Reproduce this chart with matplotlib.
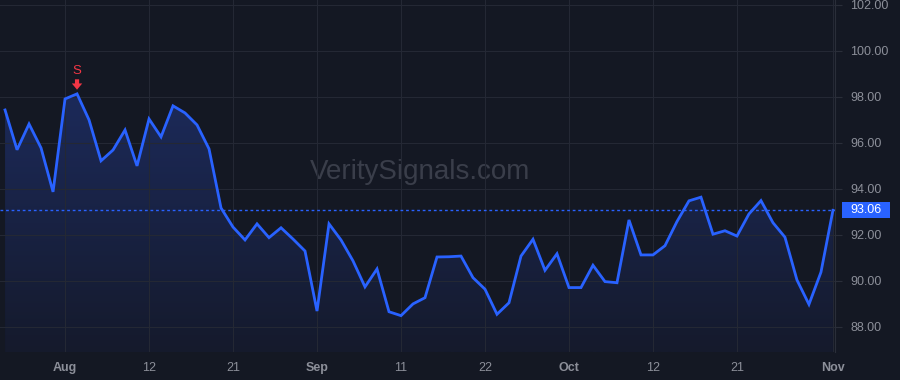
import numpy as np
import matplotlib
matplotlib.use("Agg")
import matplotlib.pyplot as plt
from matplotlib.path import Path
from matplotlib.patches import PathPatch, Rectangle
from matplotlib.transforms import blended_transform_factory

plt.rcParams['font.family'] = ['Liberation Sans', 'DejaVu Sans']

# closing values, one per trading day (Jul 25 .. Nov 1)
prices = [97.42, 95.69, 96.81, 95.77, 93.86, 97.90, 98.12, 96.99, 95.21, 95.68,
          96.55, 94.99, 97.03, 96.25, 97.60, 97.29, 96.77, 95.73, 93.16, 92.33,
          91.77, 92.47, 91.87, 92.30, 91.81, 91.29, 88.68, 92.47, 91.77, 90.86,
          89.73, 90.51, 88.65, 88.48, 88.99, 89.26, 91.03, 91.04, 91.07, 90.13,
          89.63, 88.54, 89.04, 91.07, 91.80, 90.45, 91.17, 89.70, 89.70, 90.67,
          89.96, 89.91, 92.64, 91.12, 91.12, 91.52, 92.57, 93.47, 93.63, 92.02,
          92.17, 91.94, 92.90, 93.48, 92.52, 91.89, 90.03, 88.97, 90.37, 93.06]
tick_idx = [5, 12, 19, 26, 33, 40, 47, 54, 61, 69]
tick_labels = ["Aug", "12", "21", "Sep", "11", "22", "Oct", "12", "21", "Nov"]
month_labels = ["Aug", "Sep", "Oct", "Nov"]
signal_idx = 6
signal_text = "S"
last_price = prices[-1]

bg = "#141823"
grid = "#242834"
txt = "#8c8f99"
blue = "#2962ff"
red = "#f23645"

x = np.arange(len(prices))
y = np.array(prices)

fig = plt.figure(figsize=(9, 3.8), dpi=100, facecolor=bg)
ax = fig.add_axes([0, 28 / 380, 835 / 900, 352 / 380], facecolor=bg)
ymin, ymax = 86.9, 102.2
ax.set_xlim(-0.42, 69.17)
ax.set_ylim(ymin, ymax)

# gradient fill under the line
grad = np.linspace(0, 1, 256).reshape(-1, 1)
cmap = matplotlib.colors.LinearSegmentedColormap.from_list("g", ["#151a2c", "#1c2a5a"])
im = ax.imshow(grad, extent=[x[0], x[-1], ymin, y.max()], origin="lower",
               aspect="auto", cmap=cmap, zorder=1)
verts = [(x[0], ymin)] + list(zip(x, y)) + [(x[-1], ymin), (x[0], ymin)]
clip = PathPatch(Path(verts), transform=ax.transData, facecolor="none", edgecolor="none")
ax.add_patch(clip)
im.set_clip_path(clip)

ax.plot(x, y, color=blue, lw=2, zorder=3, solid_joinstyle="miter")
ax.axhline(last_price, color=blue, lw=1, ls=(0, (2, 2)), zorder=2)

ax.set_xticks(tick_idx)
ax.set_xticklabels(tick_labels)
for lab in ax.get_xticklabels():
    if lab.get_text() in month_labels:
        lab.set_fontweight("bold")
ax.set_yticks(np.arange(88, 103, 2))
ax.yaxis.set_major_formatter(matplotlib.ticker.FormatStrFormatter("%.2f"))
ax.yaxis.tick_right()
ax.tick_params(axis="y", colors=txt, labelsize=9, length=5, width=0.8, pad=6)
ax.tick_params(axis="x", colors=txt, labelsize=9, length=0, pad=7)
for lab in ax.get_yticklabels() + ax.get_xticklabels():
    lab.set_color(txt)
ax.tick_params(axis="y", color="#2a2e39")

ax.grid(True, color=grid, lw=0.8, zorder=0)
for s in ["top", "left", "bottom"]:
    ax.spines[s].set_visible(False)
ax.spines["right"].set_color("#2a2e39")

# signal marker: down arrow with a label above
ax.annotate("", xy=(signal_idx, prices[signal_idx]), xytext=(0, 10.5),
            textcoords="offset points",
            arrowprops=dict(arrowstyle="simple,head_width=0.75,head_length=0.45,tail_width=0.3",
                            color=red, lw=0, shrinkA=0, shrinkB=3, mutation_scale=10),
            zorder=4)
ax.annotate(signal_text, xy=(signal_idx, prices[signal_idx]), xytext=(0, 12.5),
            textcoords="offset points", color=red, ha="center", va="bottom",
            fontsize=9.5)

# watermark
ax.text(0.503, 0.51, "VeritySignals.com", transform=ax.transAxes, ha="center",
        va="center", fontsize=20, color="#3a3e4a", zorder=0.5)

# last price label on the price scale
tr = blended_transform_factory(fig.transFigure, ax.transData)
box_h = 16 / 23.0
ax.add_patch(Rectangle((842 / 900, last_price - box_h / 2), 48 / 900, box_h, transform=tr,
                       facecolor=blue, edgecolor="none", clip_on=False, zorder=5))
ax.text(866 / 900, last_price, f"{last_price:.2f}", transform=tr, ha="center",
        va="center", color="white", fontsize=9, zorder=6, clip_on=False)

fig.savefig("out.png", dpi=100, facecolor=bg)
